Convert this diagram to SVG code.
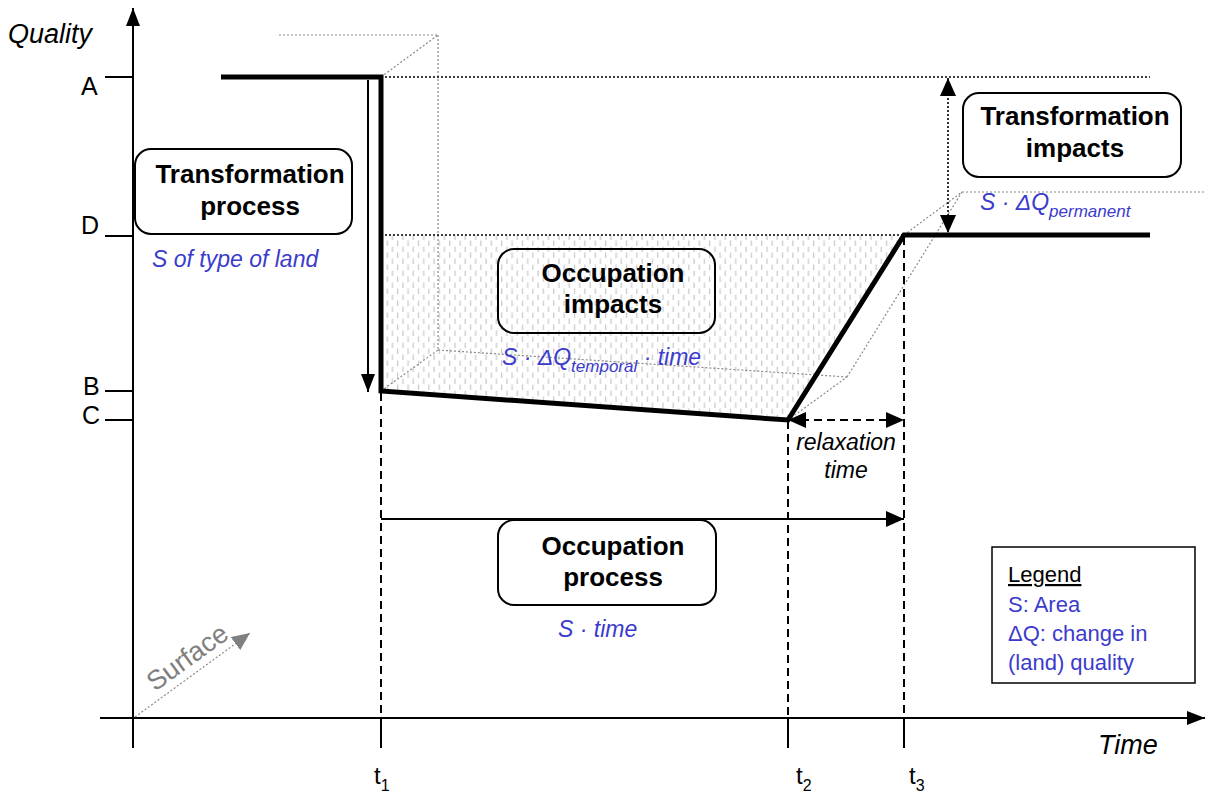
<svg xmlns="http://www.w3.org/2000/svg" width="1206" height="792" viewBox="0 0 1206 792">
<style>
.ax{stroke:#000;stroke-width:2;fill:none}
.thick{stroke:#000;stroke-width:5;fill:none;stroke-linejoin:miter}
.dash{stroke:#000;stroke-width:2;fill:none;stroke-dasharray:8 5}
.bdot{stroke:#000;stroke-width:1.6;fill:none;stroke-dasharray:2 2}
.gdot{stroke:#8a8a8a;stroke-width:1.2;fill:none;stroke-dasharray:2 2}
.box{stroke:#000;stroke-width:2;fill:none}
.t{font-family:"Liberation Sans",Arial,sans-serif;fill:#000}
.title{font-family:"Liberation Sans",Arial,sans-serif;font-weight:bold;font-size:26px;fill:#000;text-anchor:middle}
.blue{font-family:"Liberation Sans",Arial,sans-serif;font-style:italic;font-size:23px;fill:#3b3bcc}
.lg{font-family:"Liberation Sans",Arial,sans-serif;font-size:22px;fill:#3b3bcc}
.lbl{font-family:"Liberation Sans",Arial,sans-serif;font-size:25px;fill:#000}
</style>
<defs>
<marker id="ah" viewBox="0 0 18 16" refX="18" refY="8" markerWidth="18" markerHeight="16" orient="auto-start-reverse" markerUnits="userSpaceOnUse"><path d="M0,0 L18,8 L0,16 z" fill="#000"/></marker>
<marker id="ahs" viewBox="0 0 18 14" refX="18" refY="7" markerWidth="18" markerHeight="14" orient="auto" markerUnits="userSpaceOnUse"><path d="M0,0 L18,7 L0,14 z" fill="#000"/></marker>
<marker id="ahg" viewBox="0 0 18 16" refX="18" refY="8" markerWidth="18" markerHeight="16" orient="auto" markerUnits="userSpaceOnUse"><path d="M0,0 L18,8 L0,16 z" fill="#808080"/></marker>
<pattern id="hatch" width="10.4" height="12" patternUnits="userSpaceOnUse">
<line x1="2.5" y1="0.5" x2="2.5" y2="6" stroke="#c8c8c8" stroke-width="1.2"/>
<line x1="7.7" y1="6.5" x2="7.7" y2="12" stroke="#c8c8c8" stroke-width="1.2"/>
</pattern>
</defs>

<g id="shading">
<polygon points="383,235 904,235 788,420 383,391" fill="url(#hatch)"/>
</g>

<g id="box3d">
<line class="gdot" x1="279" y1="35" x2="438" y2="35"/>
<line class="gdot" x1="381" y1="77" x2="438" y2="35"/>
<line class="gdot" x1="438" y1="35" x2="438" y2="350"/>
<line class="gdot" x1="381" y1="391" x2="438" y2="350"/>
<line class="gdot" x1="438" y1="350" x2="847" y2="377"/>
<line class="gdot" x1="788" y1="420" x2="847" y2="377"/>
<line class="gdot" x1="847" y1="377" x2="962" y2="192"/>
<line class="gdot" x1="904" y1="235" x2="962" y2="192"/>
<line class="gdot" x1="962" y1="192" x2="1206" y2="192"/>
</g>

<g id="connectors">
<line class="ax" x1="133" y1="748" x2="133" y2="8" marker-end="url(#ahs)"/>
<line class="ax" x1="100" y1="718" x2="1205" y2="718" marker-end="url(#ahs)"/>
<line class="ax" x1="105" y1="77" x2="133" y2="77"/>
<line class="ax" x1="105" y1="236" x2="133" y2="236"/>
<line class="ax" x1="105" y1="391" x2="133" y2="391"/>
<line class="ax" x1="105" y1="420" x2="133" y2="420"/>
<line class="ax" x1="381" y1="718" x2="381" y2="748"/>
<line class="ax" x1="788" y1="718" x2="788" y2="748"/>
<line class="ax" x1="904" y1="718" x2="904" y2="748"/>
<line class="bdot" x1="381" y1="77" x2="1150" y2="77"/>
<line class="bdot" x1="381" y1="235" x2="904" y2="235"/>
<line class="bdot" x1="948" y1="78" x2="948" y2="233" marker-start="url(#ah)" marker-end="url(#ah)"/>
<line class="dash" x1="381" y1="393" x2="381" y2="718"/>
<line class="dash" x1="788" y1="421" x2="788" y2="718"/>
<line class="dash" x1="904" y1="237" x2="904" y2="718"/>
<line class="dash" x1="788" y1="420" x2="904" y2="420" marker-start="url(#ah)" marker-end="url(#ah)"/>
<line class="ax" x1="381" y1="519" x2="904" y2="519" marker-end="url(#ah)"/>
<line class="ax" x1="368" y1="80" x2="368" y2="392" marker-end="url(#ahs)"/>
<line class="gdot" x1="135" y1="717" x2="250" y2="633" stroke-width="1.6" marker-end="url(#ahg)"/>
<polyline class="thick" points="221,77 381,77 381,391 788,420 904,235 1150,235"/>
</g>

<g id="axis-labels">
<text class="t" x="8" y="43" font-size="27" font-style="italic">Quality</text>
<text class="t" x="1098" y="754" font-size="27" font-style="italic">Time</text>
<text class="lbl" x="81" y="95">A</text>
<text class="lbl" x="81" y="234">D</text>
<text class="lbl" x="83" y="395" font-size="22">B</text>
<text class="lbl" x="82" y="424" font-size="22">C</text>
<text class="t" x="374" y="784" font-size="24">t<tspan font-size="16" dy="7">1</tspan></text>
<text class="t" x="796" y="784" font-size="24">t<tspan font-size="16" dy="7">2</tspan></text>
<text class="t" x="909" y="784" font-size="24">t<tspan font-size="16" dy="7">3</tspan></text>
<text class="t" font-size="27" style="fill:#808080" transform="translate(155,692) rotate(-36)">Surface</text>
<text class="t" x="846" y="450" font-size="23" font-style="italic" text-anchor="middle">relaxation</text>
<text class="t" x="846" y="478" font-size="23" font-style="italic" text-anchor="middle">time</text>
</g>

<g id="transformation-process">
<rect class="box" x="135" y="149" width="217" height="85" rx="16" fill="#fff"/>
<text class="title" x="250" y="183">Transformation</text>
<text class="title" x="250" y="215">process</text>
<text class="blue" x="152" y="267">S of type of land</text>
</g>

<g id="occupation-impacts">
<rect class="box" x="498" y="249" width="217" height="84" rx="16"/>
<text class="title" x="613" y="282">Occupation</text>
<text class="title" x="613" y="313">impacts</text>
<text class="blue" x="502" y="365">S · ΔQ<tspan font-size="17" dy="7">temporal</tspan><tspan dy="-7"> · time</tspan></text>
</g>

<g id="transformation-impacts">
<rect class="box" x="963" y="93" width="218" height="84" rx="16" fill="#fff"/>
<text class="title" x="1075" y="125">Transformation</text>
<text class="title" x="1075" y="157">impacts</text>
<text class="blue" x="980" y="210">S · ΔQ<tspan font-size="17" dy="7">permanent</tspan></text>
</g>

<g id="occupation-process">
<rect class="box" x="498" y="520" width="218" height="85" rx="16" fill="#fff"/>
<text class="title" x="613" y="555">Occupation</text>
<text class="title" x="613" y="586">process</text>
<text class="blue" x="558" y="637">S · time</text>
</g>

<g id="legend">
<rect x="992" y="547" width="203" height="136" fill="#fff" stroke="#000" stroke-width="1.5"/>
<text class="t" x="1008" y="582" font-size="22" text-decoration="underline">Legend</text>
<text class="lg" x="1008" y="612">S: Area</text>
<text class="lg" x="1008" y="641">ΔQ: change in</text>
<text class="lg" x="1008" y="670">(land) quality</text>
</g>
</svg>
